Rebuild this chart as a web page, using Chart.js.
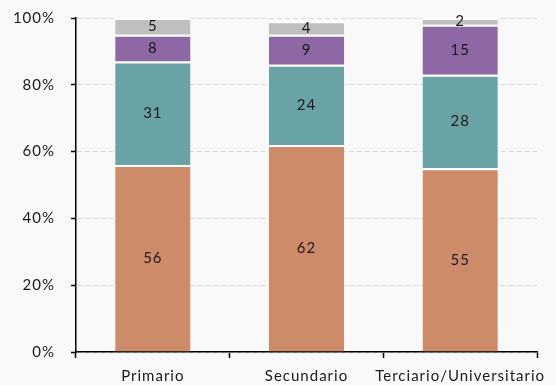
<!DOCTYPE html>
<html>
<head>
<meta charset="utf-8">
<script src="https://cdn.jsdelivr.net/npm/chart.js@4/dist/chart.umd.min.js"></script>
<style>
    html, body { margin: 0; padding: 0; background: #f9f9f9; }
    #wrap { width: 556px; height: 385px; }
</style>
</head>
<body>
<div id="wrap"><canvas id="chart" width="556" height="385"></canvas></div>
<script>
// ==================================================
// Nivel educativo — barras apiladas 100%
// ==================================================

const categories = ['Primario', 'Secundario', 'Terciario/Universitario'];
const serie1 = [56, 62, 55];
const serie2 = [31, 24, 28];
const serie3 = [8, 9, 15];
const serie4 = [5, 4, 2];
const yTicks = [0, 20, 40, 60, 80, 100];

const FONT = 'Lato, "Liberation Sans", sans-serif';

// wider letter spacing for every text on the canvas
const spacing = {
    id: 'spacing',
    beforeDraw(chart) { chart.ctx.letterSpacing = '1px'; },
};

// value labels in the middle of each segment
const segmentLabels = {
    id: 'segmentLabels',
    afterDatasetsDraw(chart) {
        const { ctx } = chart;
        ctx.save();
        ctx.font = '15px ' + FONT;
        ctx.fillStyle = '#1a1a1a';
        ctx.textAlign = 'center';
        ctx.textBaseline = 'middle';
        chart.data.datasets.forEach((ds, i) => {
            const meta = chart.getDatasetMeta(i);
            meta.data.forEach((bar, j) => {
                const y = (bar.y + bar.base) / 2;
                ctx.fillText(String(ds.data[j]), bar.x, y);
            });
        });
        ctx.restore();
    },
};

const mkSet = (label, data, color) => ({
    label, data, backgroundColor: color,
    borderColor: '#ffffff', borderWidth: { top: 2, bottom: 0, left: 0, right: 0 }, borderSkipped: false,
    barPercentage: 0.49, categoryPercentage: 1,
});

new Chart(document.getElementById('chart'), {
    type: 'bar',
    data: {
        labels: categories,
        datasets: [
            mkSet('s1', serie1, '#cd8b6a'),
            mkSet('s2', serie2, '#69a3a6'),
            mkSet('s3', serie3, '#8e67a5'),
            mkSet('s4', serie4, '#bfbfbf'),
        ],
    },
    options: {
        responsive: false,
        animation: false,
        layout: { padding: { top: 18, right: 19, bottom: 0, left: 0 } },
        plugins: { legend: { display: false }, tooltip: { enabled: false } },
        scales: {
            x: {
                stacked: true,
                grid: { offset: true, drawOnChartArea: false, tickLength: 6, tickColor: '#000', tickWidth: 1.5 },
                border: { color: '#000', width: 1.5 },
                ticks: { font: { family: FONT, size: 15 }, color: '#1a1a1a', padding: 9 },
                afterFit: s => { s.height = 33; },
            },
            y: {
                stacked: true, min: 0, max: 100,
                afterBuildTicks: s => { s.ticks = yTicks.map(v => ({ value: v })); },
                grid: { color: '#d9d9d9', tickLength: 5, tickColor: '#000', tickWidth: 1.5 },
                border: { color: '#000', width: 1.5, dash: [5, 3] },
                ticks: { font: { family: FONT, size: 15 }, color: '#1a1a1a', padding: 16, callback: v => v + '%' },
                afterFit: s => { s.width = 76; s.paddingTop = 0; s.paddingBottom = 0; },
            },
        },
    },
    plugins: [spacing, segmentLabels],
});
</script>
</body>
</html>
